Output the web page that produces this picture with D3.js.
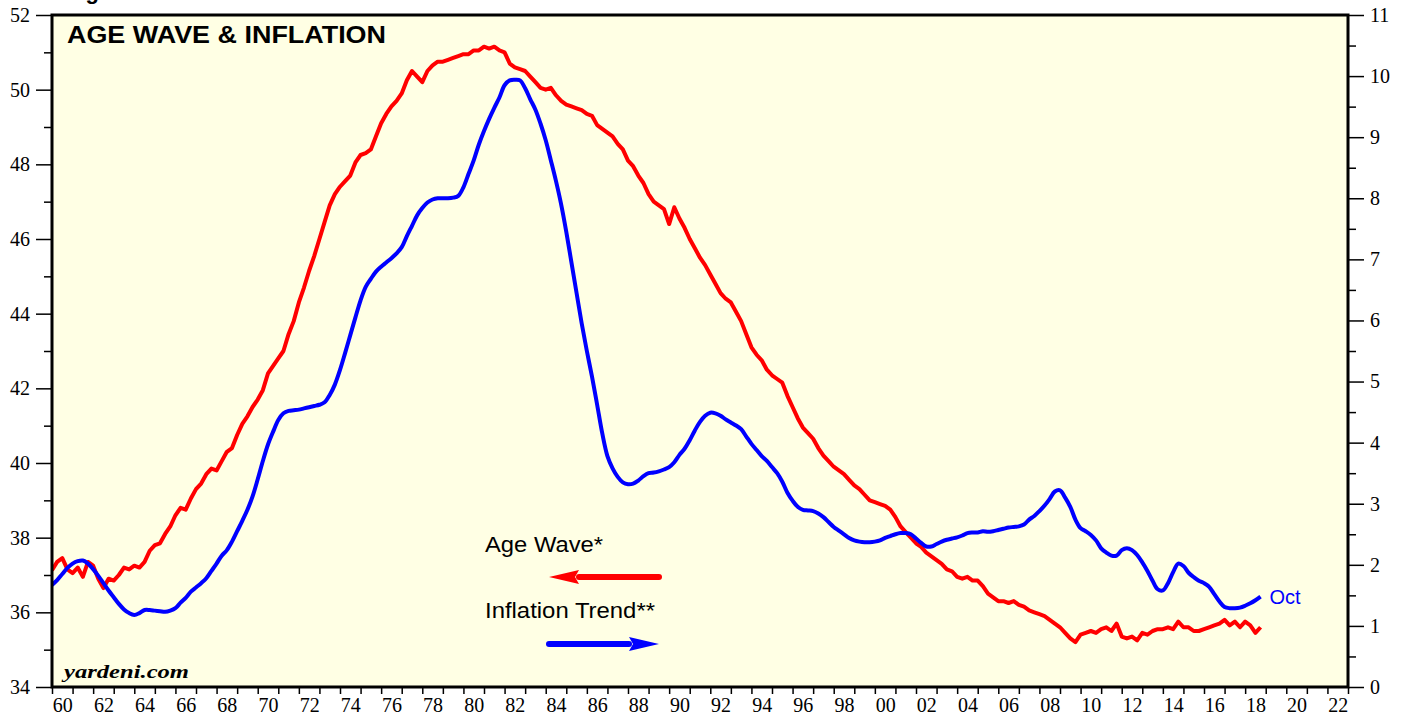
<!DOCTYPE html>
<html>
<head>
<meta charset="utf-8">
<script src="https://cdn.jsdelivr.net/npm/d3@7"></script>
<style>
  body { margin: 0; background: #fff; }
</style>
</head>
<body>
<div id="chart"></div>
<script>
// chart size, plot box
const width = 1407;
const height = 719;
const margin = {left: 52, right: 59, top: 15, bottom: 32};

// quarterly data, first point = 1960 Q1
const startYear = 1960;
const stepYear = 0.25;

// Age Wave* (left axis)
const ageWave = [
  37.13, 37.35, 37.45, 37.15,  37.05, 37.2, 36.95, 37.35,  37.25, 36.9, 36.65, 36.9,
  36.85, 37.0, 37.2, 37.15,    37.25, 37.2, 37.35, 37.65,  37.8, 37.85, 38.1, 38.3,
  38.6, 38.8, 38.75, 39.05,    39.3, 39.45, 39.7, 39.85,   39.8, 40.05, 40.3, 40.4,
  40.75, 41.05, 41.25, 41.5,   41.7, 41.95, 42.4, 42.6,    42.8, 43.0, 43.45, 43.8,
  44.3, 44.7, 45.15, 45.55,    46.0, 46.45, 46.9, 47.2,    47.4, 47.55, 47.7, 48.05,
  48.25, 48.3, 48.4, 48.75,    49.1, 49.35, 49.55, 49.7,   49.9, 50.25, 50.5, 50.35,
  50.2, 50.5, 50.65, 50.75,    50.75, 50.8, 50.85, 50.9,   50.95, 50.95, 51.05, 51.05,
  51.15, 51.1, 51.15, 51.05,   51.0, 50.7, 50.6, 50.55,    50.5, 50.35, 50.2, 50.05,
  50.0, 50.05, 49.85, 49.7,    49.6, 49.55, 49.5, 49.45,   49.35, 49.3, 49.05, 48.95,
  48.85, 48.75, 48.55, 48.4,   48.1, 47.95, 47.7, 47.5,    47.2, 47.0, 46.9, 46.8,
  46.4, 46.85, 46.55, 46.3,    46.0, 45.75, 45.5, 45.3,    45.05, 44.8, 44.55, 44.4,
  44.3, 44.05, 43.8, 43.45,    43.1, 42.9, 42.75, 42.5,    42.35, 42.25, 42.15, 41.8,
  41.5, 41.2, 40.95, 40.8,     40.65, 40.4, 40.2, 40.05,   39.9, 39.8, 39.7, 39.55,
  39.4, 39.3, 39.15, 39.0,     38.95, 38.9, 38.85, 38.75,  38.55, 38.3, 38.15, 38.0,
  37.85, 37.75, 37.6, 37.5,    37.4, 37.3, 37.15, 37.1,    36.95, 36.9, 36.95, 36.85,
  36.85, 36.7, 36.5, 36.4,     36.3, 36.3, 36.25, 36.3,    36.2, 36.15, 36.05, 36.0,
  35.95, 35.9, 35.8, 35.7,     35.6, 35.45, 35.3, 35.2,    35.4, 35.45, 35.5, 35.45,
  35.55, 35.6, 35.5, 35.7,     35.35, 35.3, 35.35, 35.25,  35.45, 35.4, 35.5, 35.55,
  35.55, 35.6, 35.55, 35.75,   35.6, 35.6, 35.5, 35.5,     35.55, 35.6, 35.65, 35.7,
  35.8, 35.65, 35.75, 35.6,    35.75, 35.65, 35.45, 35.6
];

// Inflation Trend** (right axis)
const inflation = [
  1.67, 1.75, 1.85, 1.95,  2.02, 2.06, 2.07, 2.02,  1.93, 1.82, 1.70, 1.58,
  1.47, 1.36, 1.27, 1.21,  1.18, 1.21, 1.26, 1.26,  1.25, 1.24, 1.23, 1.25,
  1.29, 1.38, 1.46, 1.56,  1.63, 1.70, 1.78, 1.90,  2.02, 2.15, 2.24, 2.38,
  2.55, 2.72, 2.90, 3.12,  3.40, 3.70, 3.97, 4.18,  4.37, 4.48, 4.52, 4.53,
  4.54, 4.56, 4.58, 4.60,  4.62, 4.66, 4.78, 4.95,  5.19, 5.47, 5.76, 6.05,
  6.33, 6.55, 6.68, 6.80,  6.88, 6.95, 7.02, 7.10,  7.20, 7.38, 7.55, 7.72,
  7.84, 7.93, 7.98, 8.00,  8.00, 8.00, 8.01, 8.04,  8.18, 8.40, 8.62, 8.88,
  9.10, 9.30, 9.48, 9.65,  9.85, 9.93, 9.94, 9.93,  9.80, 9.62, 9.45, 9.22,
  8.95, 8.62, 8.28, 7.90,  7.45, 6.95, 6.45, 5.95,  5.50, 5.08, 4.62, 4.15,
  3.78, 3.58, 3.44, 3.35,  3.32, 3.33, 3.38, 3.45,  3.50, 3.51, 3.53, 3.56,
  3.60, 3.68, 3.80, 3.90,  4.04, 4.20, 4.34, 4.44,  4.49, 4.48, 4.44, 4.38,
  4.33, 4.28, 4.22, 4.10,  3.98, 3.88, 3.78, 3.70,  3.60, 3.50, 3.36, 3.18,
  3.05, 2.95, 2.90, 2.89,  2.88, 2.84, 2.78, 2.70,  2.62, 2.56, 2.50, 2.44,
  2.40, 2.38, 2.37, 2.37,  2.38, 2.40, 2.44, 2.47,  2.50, 2.52, 2.52, 2.50,
  2.43, 2.36, 2.30, 2.30,  2.34, 2.38, 2.41, 2.43,  2.45, 2.48, 2.52, 2.53,
  2.53, 2.55, 2.54, 2.55,  2.57, 2.59, 2.61, 2.62,  2.63, 2.66, 2.74, 2.80,
  2.88, 2.97, 3.08, 3.20,  3.22, 3.10, 2.95, 2.74,  2.60, 2.55, 2.49, 2.40,
  2.27, 2.20, 2.15, 2.15,  2.24, 2.27, 2.24, 2.16,  2.04, 1.90, 1.74, 1.60,
  1.58, 1.70, 1.88, 2.02,  1.98, 1.87, 1.80, 1.74,  1.70, 1.64, 1.52, 1.40,
  1.31, 1.29, 1.29, 1.30,  1.33, 1.37, 1.42, 1.48
];

// axis ticks
const leftTicks = [34, 36, 38, 40, 42, 44, 46, 48, 50, 52];
const leftMinor = [35, 37, 39, 41, 43, 45, 47, 49, 51];
const rightTicks = [0, 1, 2, 3, 4, 5, 6, 7, 8, 9, 10, 11];
const rightMinor = [0.5, 1.5, 2.5, 3.5, 4.5, 5.5, 6.5, 7.5, 8.5, 9.5, 10.5];
const yearLabels = [1960, 1962, 1964, 1966, 1968, 1970, 1972, 1974, 1976, 1978, 1980,
  1982, 1984, 1986, 1988, 1990, 1992, 1994, 1996, 1998, 2000, 2002, 2004, 2006,
  2008, 2010, 2012, 2014, 2016, 2018, 2020, 2022];

const red = "#ff0000";
const blue = "#0000ff";
const serif = "'Liberation Serif', 'Times New Roman', serif";
const sans = "'Liberation Sans', Arial, Helvetica, sans-serif";

const svg = d3.select("#chart")
  .append("svg")
  .attr("width", width)
  .attr("height", height);

const x = d3.scaleLinear()
  .domain([1960, 2023])
  .range([margin.left, width - margin.right]);
const yL = d3.scaleLinear()
  .domain([34, 52])
  .range([height - margin.bottom, margin.top]);
const yR = d3.scaleLinear()
  .domain([0, 11])
  .range([height - margin.bottom, margin.top]);

const plotW = width - margin.left - margin.right;
const plotH = height - margin.top - margin.bottom;

// background
svg.append("rect")
  .attr("x", margin.left).attr("y", margin.top)
  .attr("width", plotW).attr("height", plotH)
  .attr("fill", "#ffffe4");

svg.append("clipPath").attr("id", "clip")
  .append("rect")
  .attr("x", margin.left).attr("y", margin.top)
  .attr("width", plotW).attr("height", plotH);

// heading above the chart, cut off by the page edge in the original
svg.append("text")
  .attr("x", 66).attr("y", -1)
  .style("font-family", sans)
  .style("font-weight", "bold")
  .style("font-size", "22px")
  .text("Figure");

// axes
function styleAxis(g) {
  g.attr("font-family", null).attr("font-size", null);
  g.select(".domain").remove();
  g.selectAll(".tick line").attr("stroke", "#000").attr("stroke-width", 1.5);
  g.selectAll(".tick text")
    .style("font-family", serif)
    .style("font-size", "20px")
    .attr("fill", "#000");
}

svg.append("g")
  .attr("transform", `translate(${margin.left},0)`)
  .call(d3.axisLeft(yL).tickValues(leftTicks).tickSize(16).tickPadding(6))
  .call(styleAxis);
svg.append("g")
  .attr("transform", `translate(${margin.left},0)`)
  .call(d3.axisLeft(yL).tickValues(leftMinor).tickSize(8).tickFormat(""))
  .call(styleAxis);

svg.append("g")
  .attr("transform", `translate(${width - margin.right},0)`)
  .call(d3.axisRight(yR).tickValues(rightTicks).tickSize(16).tickPadding(6))
  .call(styleAxis);
svg.append("g")
  .attr("transform", `translate(${width - margin.right},0)`)
  .call(d3.axisRight(yR).tickValues(rightMinor).tickSize(8).tickFormat(""))
  .call(styleAxis);

svg.append("g")
  .attr("transform", `translate(0,${height - margin.bottom})`)
  .call(d3.axisBottom(x).tickValues(d3.range(1960, 2024)).tickSize(7).tickFormat(""))
  .call(styleAxis);
// year labels sit in the middle of each year
svg.append("g")
  .attr("transform", `translate(0,${height - margin.bottom})`)
  .call(d3.axisBottom(x)
    .tickValues(yearLabels.map(d => d + 0.5))
    .tickSize(0).tickPadding(11)
    .tickFormat(d => String(Math.floor(d) % 100).padStart(2, "0")))
  .call(styleAxis);

// lines
const ageLine = d3.line()
  .x((d, i) => x(startYear + i * stepYear))
  .y(d => yL(d));
const inflLine = d3.line()
  .x((d, i) => x(startYear + i * stepYear))
  .y(d => yR(d))
  .curve(d3.curveCatmullRom);

const lines = svg.append("g").attr("clip-path", "url(#clip)");
lines.append("path")
  .datum(ageWave)
  .attr("d", ageLine)
  .attr("fill", "none")
  .attr("stroke", red)
  .attr("stroke-width", 4)
  .attr("stroke-linejoin", "round");
lines.append("path")
  .datum(inflation)
  .attr("d", inflLine)
  .attr("fill", "none")
  .attr("stroke", blue)
  .attr("stroke-width", 4)
  .attr("stroke-linejoin", "round");

// frame
svg.append("path")
  .attr("d", `M${margin.left},${height - margin.bottom}V${margin.top}H${width - margin.right}V${height - margin.bottom}Z`)
  .attr("fill", "none")
  .attr("stroke", "#000")
  .attr("stroke-width", 3);

// title
svg.append("text")
  .attr("x", 67).attr("y", 43)
  .style("font-family", sans)
  .style("font-weight", "bold")
  .style("font-size", "23px")
  .attr("textLength", 319)
  .attr("lengthAdjust", "spacingAndGlyphs")
  .text("AGE WAVE & INFLATION");

// source
svg.append("text")
  .attr("x", 64).attr("y", 678)
  .style("font-family", serif)
  .style("font-weight", "bold")
  .style("font-style", "italic")
  .style("font-size", "19px")
  .attr("textLength", 125)
  .attr("lengthAdjust", "spacingAndGlyphs")
  .text("yardeni.com");

// legend
svg.append("text")
  .attr("x", 485).attr("y", 552)
  .style("font-family", sans)
  .style("font-size", "22px")
  .attr("textLength", 118)
  .attr("lengthAdjust", "spacingAndGlyphs")
  .text("Age Wave*");
svg.append("text")
  .attr("x", 485).attr("y", 618)
  .style("font-family", sans)
  .style("font-size", "22px")
  .attr("textLength", 170)
  .attr("lengthAdjust", "spacingAndGlyphs")
  .text("Inflation Trend**");

// legend arrows: shaft + head
const arrowLen = 110;
const headLen = 30;
const headHalf = 7;
function arrow(x0, y0, dir, color) {
  const tip = dir < 0 ? x0 : x0 + arrowLen;
  const tail = dir < 0 ? x0 + arrowLen : x0;
  const base = tip - dir * headLen;
  svg.append("line")
    .attr("x1", tail).attr("y1", y0).attr("x2", base).attr("y2", y0)
    .attr("stroke", color).attr("stroke-width", 6)
    .attr("stroke-linecap", "round");
  svg.append("path")
    .attr("d", `M${tip},${y0}L${base},${y0 - headHalf}L${base + dir * 4},${y0}L${base},${y0 + headHalf}Z`)
    .attr("fill", color);
}
arrow(549, 577, -1, red);
arrow(549, 644, 1, blue);

// last month label
svg.append("text")
  .attr("x", x(startYear + (inflation.length - 1) * stepYear) + 9)
  .attr("y", 604)
  .style("font-family", sans)
  .style("font-size", "20px")
  .attr("fill", blue)
  .text("Oct");
</script>
</body>
</html>
